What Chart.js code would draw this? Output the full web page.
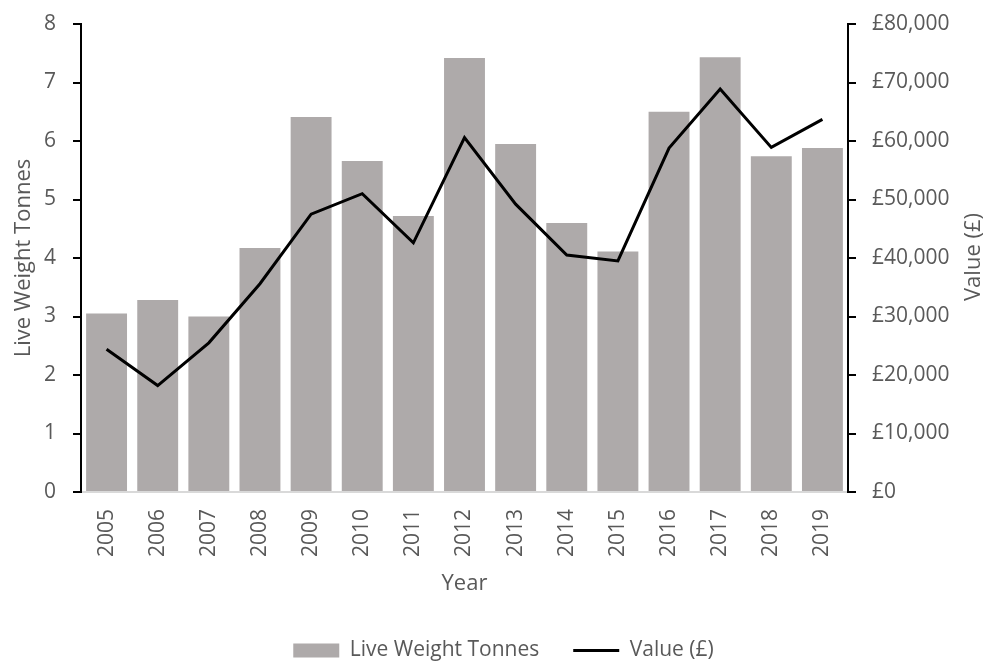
<!DOCTYPE html>
<html>
<head>
<meta charset="utf-8">
<title>Live Weight Tonnes and Value</title>
<script src="https://cdn.jsdelivr.net/npm/chart.js@4"></script>
<style>
  html, body { margin: 0; padding: 0; background: #fff; }
  #wrap { width: 987px; height: 662px; position: relative; }
</style>
</head>
<body>
<div id="wrap"><canvas id="chart"></canvas></div>
<script>
// ---- data ----
const years = ['2005', '2006', '2007', '2008', '2009', '2010', '2011', '2012',
  '2013', '2014', '2015', '2016', '2017', '2018', '2019'];
const tonnes = [3.05, 3.28, 3.00, 4.17, 6.41, 5.66, 4.72, 7.42,
  5.95, 4.60, 4.11, 6.50, 7.43, 5.74, 5.88];
const valueGBP = [24400, 18200, 25500, 35600, 47500, 51000, 42600, 60600,
  49200, 40500, 39500, 58800, 68900, 58900, 63700];
const tonneTicks = { min: 0, max: 8, step: 1 };
const valueTicks = { min: 0, max: 80000, step: 10000 };

const textGrey = '#595959';
Chart.defaults.font.family = '"Open Sans", sans-serif';
Chart.defaults.color = textGrey;

// right axis title reads bottom-to-top, so draw it ourselves.
// also nudge the legend a bit right, like the original
const extras = {
  id: 'extras',
  afterLayout(chart) {
    chart.legend.left += 10;
    chart.legend.right += 10;
  },
  afterDraw(chart) {
    const ctx = chart.ctx;
    ctx.save();
    ctx.translate(974, 257);
    ctx.rotate(-Math.PI / 2);
    ctx.font = '22px "Open Sans", sans-serif';
    ctx.fillStyle = textGrey;
    ctx.textAlign = 'center';
    ctx.textBaseline = 'middle';
    ctx.fillText('Value (£)', 0, 0);
    ctx.restore();
  }
};

// fixed widths for the value axes, no extra label padding above/below
const fixY = w => s => {
  s.width = w;
  s.paddingTop = 0;
  s.paddingBottom = 0;
};

new Chart(document.getElementById('chart'), {
  data: {
    labels: years,
    datasets: [
      {
        type: 'bar',
        label: 'Live Weight Tonnes',
        data: tonnes,
        backgroundColor: '#AEAAAA',
        barPercentage: 0.8,
        categoryPercentage: 1.0,
        yAxisID: 'y',
        pointStyle: 'rect',
        order: 1
      },
      {
        type: 'line',
        label: 'Value (£)',
        data: valueGBP,
        borderColor: '#000',
        backgroundColor: '#000',
        borderWidth: 3,
        pointRadius: 0,
        tension: 0,
        yAxisID: 'y1',
        pointStyle: 'line',
        order: 0
      }
    ]
  },
  options: {
    responsive: true,
    maintainAspectRatio: false,
    animation: false,
    layout: { padding: { top: 24, left: 0, right: 0, bottom: -9 } },
    plugins: {
      tooltip: { enabled: false },
      legend: {
        position: 'bottom',
        labels: {
          usePointStyle: true,
          pointStyleWidth: 46,
          boxHeight: 14,
          padding: 34,
          color: textGrey,
          font: { size: 21 },
          sort: (a, b) => a.datasetIndex - b.datasetIndex
        }
      }
    },
    scales: {
      x: {
        grid: { display: false, drawTicks: false },
        border: { color: '#D9D9D9', width: 2 },
        ticks: { minRotation: 90, maxRotation: 90, padding: 17, font: { size: 21 }, color: textGrey },
        title: { display: true, text: 'Year', font: { size: 22 }, color: textGrey, padding: { top: 4, bottom: 9 } },
        afterFit: s => { s.height = 114; }
      },
      y: {
        position: 'left',
        min: tonneTicks.min,
        max: tonneTicks.max,
        grid: { drawOnChartArea: false, drawTicks: true, tickLength: 8, color: '#000', lineWidth: 2 },
        border: { color: '#000', width: 2 },
        ticks: { stepSize: tonneTicks.step, padding: 17, font: { size: 21 }, color: textGrey },
        title: { display: true, text: 'Live Weight Tonnes', font: { size: 22 }, color: textGrey, padding: { top: 11, bottom: 0 } },
        afterFit: fixY(81)
      },
      y1: {
        position: 'right',
        min: valueTicks.min,
        max: valueTicks.max,
        grid: { drawOnChartArea: false, drawTicks: true, tickLength: 8, color: '#000', lineWidth: 2 },
        border: { color: '#000', width: 2 },
        ticks: {
          stepSize: valueTicks.step,
          padding: 16,
          font: { size: 21 },
          color: textGrey,
          callback: v => '£' + v.toLocaleString('en-GB')
        },
        afterFit: fixY(139)
      }
    }
  },
  plugins: [extras]
});
</script>
</body>
</html>
